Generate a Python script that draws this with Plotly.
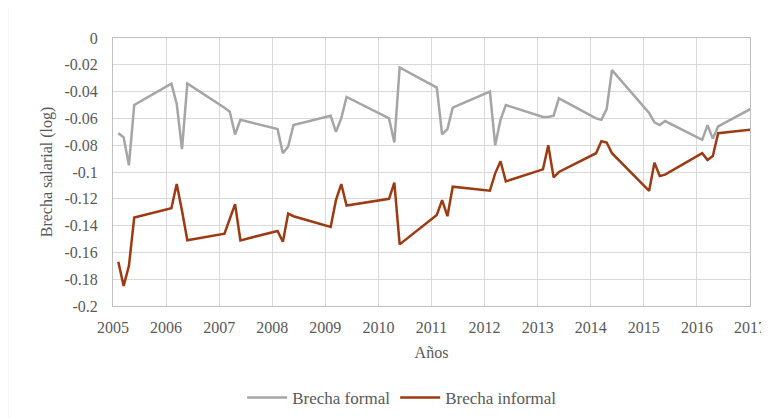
import plotly.graph_objects as go

# year.quarter positions (2005.1 = 2005 Q1 ...)
anos = [2005.1, 2005.2, 2005.3, 2005.4,
        2006.1, 2006.2, 2006.3, 2006.4,
        2007.1, 2007.2, 2007.3, 2007.4,
        2008.1, 2008.2, 2008.3, 2008.4,
        2009.1, 2009.2, 2009.3, 2009.4,
        2010.1, 2010.2, 2010.3, 2010.4,
        2011.1, 2011.2, 2011.3, 2011.4,
        2012.1, 2012.2, 2012.3, 2012.4,
        2013.1, 2013.2, 2013.3, 2013.4,
        2014.1, 2014.2, 2014.3, 2014.4,
        2015.1, 2015.2, 2015.3, 2015.4,
        2016.1, 2016.2, 2016.3, 2016.4,
        2017.1]

brecha_formal = [-0.071, -0.074, -0.095, -0.050,
                 -0.034, -0.049, -0.083, -0.034,
                 -0.052, -0.055, -0.072, -0.061,
                 -0.068, -0.086, -0.081, -0.065,
                 -0.058, -0.070, -0.060, -0.044,
                 -0.058, -0.060, -0.078, -0.022,
                 -0.037, -0.072, -0.068, -0.052,
                 -0.040, -0.080, -0.061, -0.050,
                 -0.059, -0.059, -0.058, -0.045,
                 -0.060, -0.061, -0.053, -0.024,
                 -0.056, -0.063, -0.065, -0.062,
                 -0.076, -0.065, -0.075, -0.066,
                 -0.051]

brecha_informal = [-0.167, -0.185, -0.170, -0.134,
                   -0.127, -0.109, -0.129, -0.151,
                   -0.146, -0.135, -0.124, -0.151,
                   -0.144, -0.152, -0.131, -0.133,
                   -0.141, -0.121, -0.109, -0.125,
                   -0.121, -0.120, -0.108, -0.154,
                   -0.132, -0.121, -0.133, -0.111,
                   -0.114, -0.101, -0.092, -0.107,
                   -0.098, -0.080, -0.104, -0.100,
                   -0.086, -0.077, -0.078, -0.086,
                   -0.114, -0.093, -0.103, -0.102,
                   -0.086, -0.091, -0.088, -0.071,
                   -0.068]

x_ticks = list(range(2005, 2018))
y_ticks = [0, -0.02, -0.04, -0.06, -0.08, -0.1, -0.12, -0.14, -0.16, -0.18, -0.2]
y_labels = ["0", "-0.02", "-0.04", "-0.06", "-0.08", "-0.1",
            "-0.12", "-0.14", "-0.16", "-0.18", "-0.2"]

font_serif = "Times New Roman, Liberation Serif, DejaVu Serif, serif"
text_color = "#595959"
grid_color = "#D9D9D9"

fig = go.Figure()
fig.add_trace(go.Scatter(
    x=anos, y=brecha_formal, mode="lines", name="Brecha formal",
    line=dict(color="#A5A5A5", width=2.5)
))
fig.add_trace(go.Scatter(
    x=anos, y=brecha_informal, mode="lines", name="Brecha informal",
    line=dict(color="#9E3A12", width=2.5)
))

# faint border on the left of the picture
fig.add_shape(type="line", xref="paper", yref="paper",
              x0=-0.165, x1=-0.165, y0=-0.45, y1=1.15,
              line=dict(color="#E6E6E6", width=1))

# page has an 8px body margin, so the figure is 8px smaller than the window
fig.update_layout(
    width=761, height=410,
    margin=dict(l=105, r=19, t=30, b=112, autoexpand=False),
    paper_bgcolor="white", plot_bgcolor="white",
    font=dict(family=font_serif, size=15, color=text_color),
    showlegend=True,
    legend=dict(orientation="h", x=0.454, xanchor="center", y=-0.343, yanchor="middle",
                font=dict(family=font_serif, size=17, color=text_color),
                itemwidth=40, traceorder="normal"),
    xaxis=dict(
        range=[2005, 2017], tickmode="array", tickvals=x_ticks,
        ticktext=[str(t) for t in x_ticks],
        showgrid=True, gridcolor=grid_color, gridwidth=1,
        showline=True, linecolor="#BFBFBF", mirror=True, linewidth=1,
        zeroline=False, ticks="", automargin=False, ticklabelstandoff=7,
        tickfont=dict(family=font_serif, size=16, color=text_color),
        title=dict(text="Años", font=dict(family=font_serif, size=16, color=text_color),
                   standoff=11),
    ),
    yaxis=dict(
        range=[-0.2, 0], tickmode="array", tickvals=y_ticks, ticktext=y_labels,
        showgrid=True, gridcolor=grid_color, gridwidth=1,
        showline=True, linecolor="#BFBFBF", mirror=True, linewidth=1,
        zeroline=False, ticks="", ticklabelstandoff=11, automargin=False,
        tickfont=dict(family=font_serif, size=16, color=text_color),
        title=dict(text="Brecha salarial (log)",
                   font=dict(family=font_serif, size=16, color=text_color),
                   standoff=7),
    ),
)

fig.write_html("out.html")
